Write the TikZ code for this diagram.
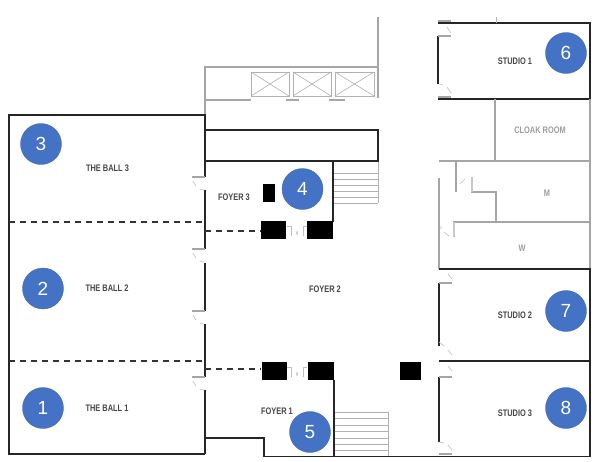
\documentclass[tikz,border=0pt]{standalone}
\usepackage{fontspec}
\setmainfont{Liberation Sans}
\newfontfamily\numfont{Liberation Sans}
\newcommand{\narrowlab}[1]{\scalebox{.78}[1]{#1}}
\tikzset{
  x=1pt,y=-1pt,
  wall/.style={draw=black!85,line width=1.5pt},
  graywall/.style={draw=black!35,line width=1.2pt},
  thin gray/.style={draw=black!30,line width=.9pt},
  tickline/.style={draw=black!35,line width=1.6pt},
  swing/.style={draw=black!25,line width=.6pt},
  partition/.style={draw=black!80,line width=1.5pt,dash pattern=on 6pt off 5pt},
  column/.style={fill=black,draw=none},
  marker/.style={circle,fill=markerblue,draw=markerblue!85!black,line width=.3pt,minimum size=41pt,inner sep=0pt,text=white,font=\numfont\fontsize{19}{19}\selectfont},
  room/.style={inner sep=0pt,text=black!72,font=\bfseries\fontsize{9.5}{10}\selectfont},
  faint room/.style={room,text=black!38},
}
\definecolor{markerblue}{HTML}{4472C4}
\newcommand{\doorW}[2]{%
  \draw[tickline] (#1-13,#2) -- (#1,#2);
  \draw[swing] (#1-12,#2+4) -- (#1-9,#2+9);
  \draw[swing] (#1-5,#2+12) -- (#1-1,#2+13);
}
\newcommand{\doorE}[2]{%
  \draw[tickline] (#1,#2) -- (#1+13,#2);
}
\begin{document}
\begin{tikzpicture}
\useasboundingbox (0,0) rectangle (600,461);
\fill[white] (0,0) rectangle (600,461);

\draw[graywall] (205,115) -- (205,67) -- (378,67);
\draw[graywall] (378,17) -- (378,98);
\draw[graywall] (205,100) -- (251,100);
\draw[tickline] (286,100) -- (299,100);
\draw[tickline] (329,100) -- (345,100);
\foreach \xa/\xb in {251/289,293/331,335/374}{
  \draw[thin gray] (\xa,72) rectangle (\xb,96);
  \draw[thin gray,line width=.6pt] (\xa,72) -- (\xb,96) (\xa,96) -- (\xb,72);
}

\foreach \yy in {173,179,185,191,197,203}{\draw[thin gray] (334,\yy) -- (378,\yy);}
\draw[thin gray] (378,161) -- (378,203);
\foreach \yy in {412,418,425,431,438,444,450}{\draw[thin gray] (335,\yy) -- (388,\yy);}
\draw[thin gray] (388,412) -- (388,456);

\draw[wall] (205,177) -- (205,115) -- (9,115) -- (9,454) -- (205,454);
\draw[wall] (205,190) -- (205,249);
\draw[wall] (205,263) -- (205,311);
\draw[wall] (205,324) -- (205,377);
\draw[wall] (205,390) -- (205,438) -- (264,438) -- (264,456.5) -- (590,456.5);
\draw[wall] (205,454) -- (205,438);
\doorW{205}{177}
\doorW{205}{249}
\doorW{205}{311}
\doorW{205}{377}
\draw[partition] (9,222) -- (205,222);
\draw[partition] (9,361) -- (205,361);
\draw[partition] (205,231) -- (261,231);
\draw[partition] (205,369) -- (261,369);

\draw[wall] (205,130) -- (378,130) -- (378,161) -- (205,161);
\draw[wall] (333,161) -- (333,222);
\draw[wall] (334,380) -- (334,456);

\fill[column] (263,184) rectangle (275,202);
\fill[column] (261,221) rectangle (286,239);
\fill[column] (307,221) rectangle (333,239);
\fill[column] (262,362) rectangle (287,380);
\fill[column] (308,362) rectangle (334,380);
\fill[column] (400,362) rectangle (421,380);

\foreach \yy in {226,367}{
  \draw[swing] (287,\yy) -- (291,\yy) (291,\yy) -- (291,\yy+10);
  \draw[swing] (303,\yy) -- (307,\yy) (303,\yy) -- (303,\yy+10);
  \draw[swing] (296,\yy+5) -- (297,\yy+9) (298,\yy+5) -- (297,\yy+9);
}

\draw[wall] (438,23) -- (590,23) -- (590,99) -- (438,99);
\draw[wall] (438,36) -- (438,84);
\draw[thin gray] (496,17) -- (496,23);
\doorE{438}{21}
\doorE{438}{36}
\doorE{438}{97}
\draw[swing] (447,27) -- (451,33);
\draw[swing] (447,87) -- (451,93);
\draw[swing] (439,84) -- (443,85);

\draw[graywall] (590,99) -- (590,269);
\draw[graywall] (495,99) -- (495,161);
\draw[graywall] (439,161) -- (590,161);
\draw[graywall] (456,161) -- (456,192);
\draw[graywall] (472,177) -- (472,192) -- (496,192) -- (496,222);
\draw[tickline,draw=black!22] (472,177) -- (472,192);
\draw[graywall] (454,237) -- (454,222) -- (590,222);
\draw[tickline,draw=black!22] (454,222) -- (454,237);
\draw[graywall] (439,178) -- (439,269);
\draw[swing] (460,184) -- (465,179);
\draw[swing] (441,226) -- (441,229) (444,232) -- (449,236);

\draw[wall] (439,269) -- (590,269) -- (590,456.5);
\draw[wall] (439,361) -- (590,361);
\draw[wall] (439,283) -- (439,346);
\draw[wall] (439,377) -- (439,442);
\doorE{439}{283}
\doorE{439}{377}
\doorE{439}{454}
\draw[swing] (448,274) -- (452,279);
\draw[swing] (448,350) -- (452,355);
\draw[swing] (448,366) -- (452,371);
\draw[swing] (448,445) -- (452,450);
\draw[swing] (439,342) -- (444,346);
\draw[swing] (439,442) -- (444,443);

\node[room] (ball3) at (107.5,168) {\narrowlab{THE BALL 3}};
\node[room] (ball2) at (107,288.5) {\narrowlab{THE BALL 2}};
\node[room] (ball1) at (107,408.5) {\narrowlab{THE BALL 1}};
\node[room] (foyer3) at (234,197.5) {\narrowlab{FOYER 3}};
\node[room] (foyer2) at (325,289) {\narrowlab{FOYER 2}};
\node[room] (foyer1) at (277,411) {\narrowlab{FOYER 1}};
\node[room] (studio1) at (515,61) {\narrowlab{STUDIO 1}};
\node[room] (studio2) at (515,315) {\narrowlab{STUDIO 2}};
\node[room] (studio3) at (515,413) {\narrowlab{STUDIO 3}};
\node[faint room] (cloak) at (540,130) {\narrowlab{CLOAK ROOM}};
\node[faint room] (m) at (547,193) {\narrowlab{M}};
\node[faint room] (w) at (522,248) {\narrowlab{W}};

\node[marker] (m1) at (43,408) {1};
\node[marker] (m2) at (43,288.5) {2};
\node[marker] (m3) at (41,144) {3};
\node[marker] (m4) at (302.5,189) {4};
\node[marker] (m5) at (310,432) {5};
\node[marker] (m6) at (566,53) {6};
\node[marker] (m7) at (566,311) {7};
\node[marker] (m8) at (566,408) {8};
\end{tikzpicture}
\end{document}
